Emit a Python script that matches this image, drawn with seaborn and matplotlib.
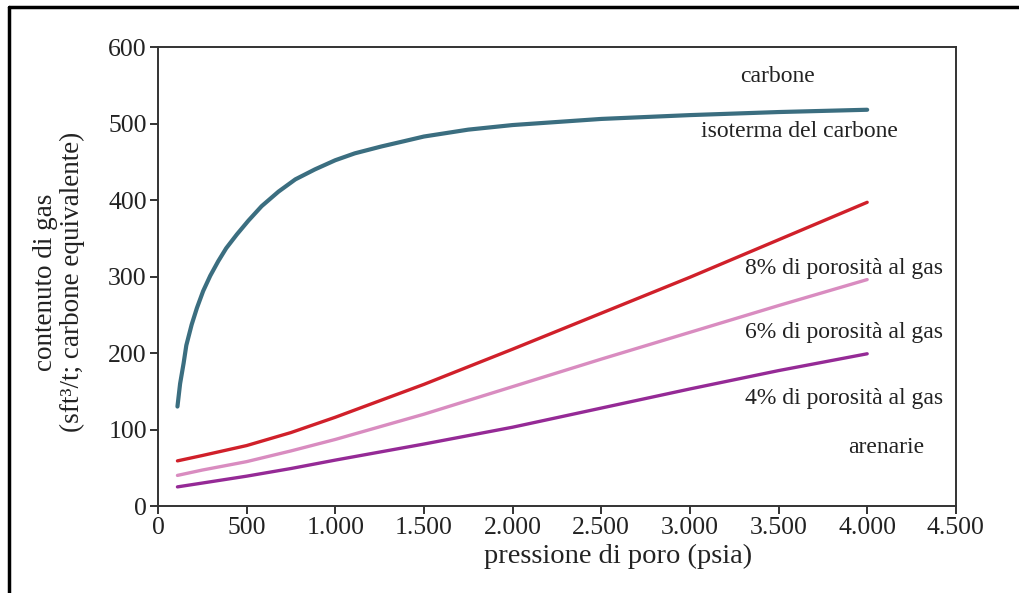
import matplotlib
matplotlib.use("Agg")
import matplotlib.pyplot as plt
import seaborn as sns
from matplotlib.lines import Line2D
from matplotlib.ticker import FuncFormatter

# ---- data ----
coal_p = [110, 125, 145, 160, 190, 220, 255, 295, 340, 385, 445, 510, 585, 680, 775, 885,
          1000, 1110, 1260, 1390, 1500, 1750, 2000, 2500, 3000, 3500, 4000]
coal_v = [130, 160, 187, 210, 237, 259, 281, 301, 320, 337, 355, 373, 392, 411, 427, 440,
          452, 461, 470, 477, 483, 492, 498, 506, 511, 515, 518]

sand_p = [110, 250, 500, 750, 1000, 1500, 2000, 2500, 3000, 3500, 4000]
sand8_v = [59, 66, 79, 96, 116, 159, 205, 252, 299, 348, 397]
sand6_v = [40, 47, 58, 72, 87, 120, 156, 192, 227, 262, 296]
sand4_v = [25, 30, 39, 49, 60, 81, 103, 128, 153, 177, 199]

x_ticks = [0, 500, 1000, 1500, 2000, 2500, 3000, 3500, 4000, 4500]
y_ticks = [0, 100, 200, 300, 400, 500, 600]

labels = ["carbone", "isoterma del carbone", "8% di porosità al gas",
          "6% di porosità al gas", "4% di porosità al gas", "arenarie"]

sns.set_theme(style="white")
plt.rcParams['font.family'] = ['Liberation Serif', 'DejaVu Serif']

fig = plt.figure(figsize=(10.19, 5.93), dpi=100)
ax = fig.add_axes([0.155, 0.1467, 0.783, 0.774])

coal_c = "#3b6e80"
red_c = "#d0202a"
pink_c = "#d98cc0"
purple_c = "#952a96"

sns.lineplot(x=coal_p, y=coal_v, color=coal_c, lw=3, ax=ax)
sns.lineplot(x=sand_p, y=sand8_v, color=red_c, lw=2.4, ax=ax)
sns.lineplot(x=sand_p, y=sand6_v, color=pink_c, lw=2.4, ax=ax)
sns.lineplot(x=sand_p, y=sand4_v, color=purple_c, lw=2.4, ax=ax)

ax.set_xlim(0, 4500)
ax.set_ylim(0, 600)
ax.set_xticks(x_ticks)
ax.set_yticks(y_ticks)
ax.xaxis.set_major_formatter(FuncFormatter(lambda v, p: f"{int(v):,}".replace(",", ".")))

for s in ax.spines.values():
    s.set_visible(True)
    s.set_color("#333333")
    s.set_linewidth(1.4)

ax.tick_params(axis="both", which="major", direction="out", length=6, width=1.4,
               color="#333333", labelsize=18.5, labelcolor="#222222",
               bottom=True, left=True, top=False, right=False, pad=2)

ax.set_xlabel("pressione di poro (psia)", fontsize=20.5, color="#222222")
ax.xaxis.set_label_coords(0.577, -0.082)
ax.set_ylabel("contenuto di gas\n(sft³/t; carbone equivalente)", fontsize=19.5,
              color="#222222", linespacing=1.05)
ax.yaxis.set_label_coords(-0.092, 0.488)

tk = dict(fontsize=17, color="#222222", ha="center", va="center")
ax.text(3496, 562, labels[0], **tk)
ax.text(3620, 489, labels[1], **tk)
ax.text(3868, 311, labels[2], **tk)
ax.text(3868, 227, labels[3], **tk)
ax.text(3868, 140, labels[4], **tk)
ax.text(4105, 77, labels[5], **tk)

# outer frame (left and top lines)
fig.add_artist(Line2D([8.5 / 1019, 8.5 / 1019], [0, 1 - 7.3 / 593], color="black", lw=2.5,
                      transform=fig.transFigure))
fig.add_artist(Line2D([8.5 / 1019, 1], [1 - 7.3 / 593, 1 - 7.3 / 593], color="black", lw=2.5,
                      transform=fig.transFigure))

fig.savefig("out.png", dpi=100)
